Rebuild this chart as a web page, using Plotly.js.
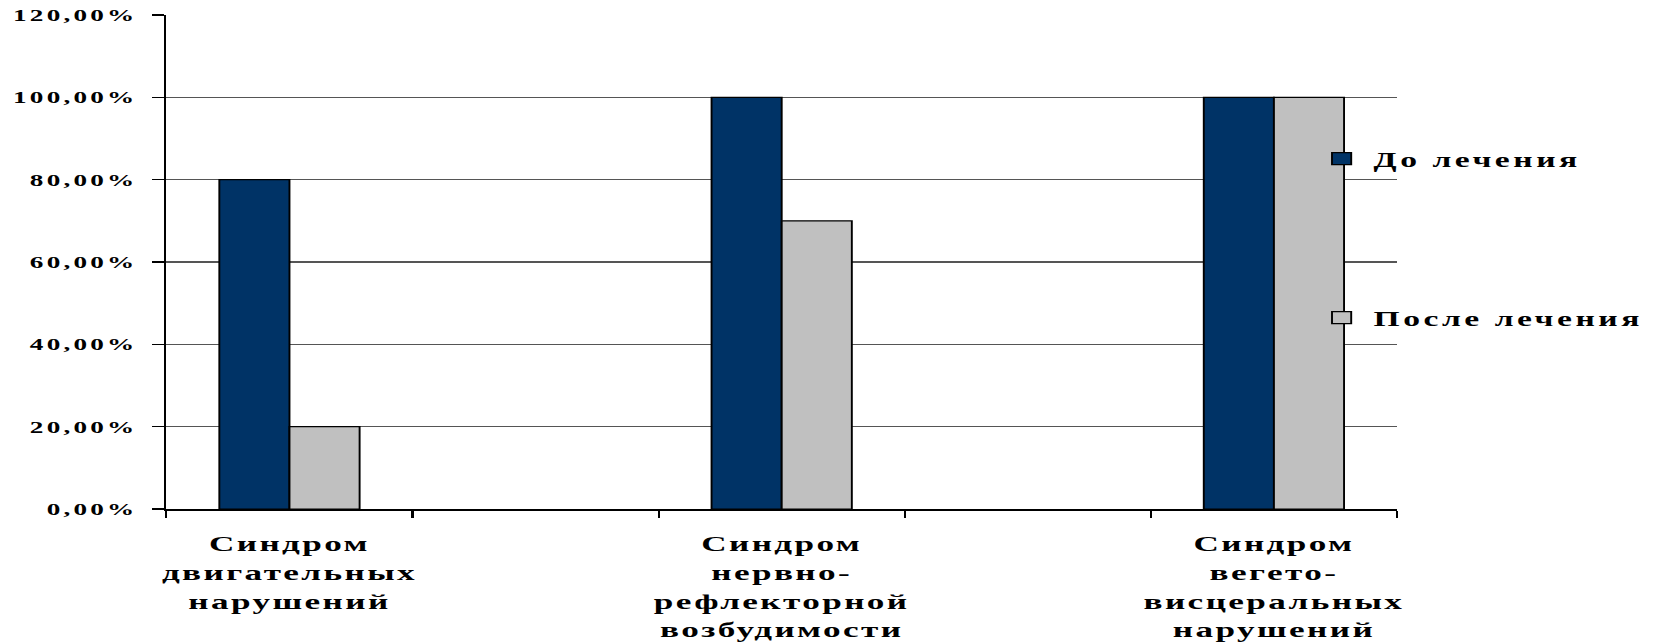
<!DOCTYPE html>
<html>
<head>
<meta charset="utf-8">
<script src="https://cdn.plot.ly/plotly-3.0.1.min.js"></script>
<style>
  html, body { margin: 0; padding: 0; background: #fff; overflow: hidden; }
  /* The original chart is horizontally stretched; draw it narrower and stretch it. */
  #chart { width: 1033px; height: 642px; transform: scaleX(1.600194); transform-origin: 0 0; }
  .ytick text { letter-spacing: 2px; }
  .xtick text { letter-spacing: 1.5px; }
  .infolayer g[class^="legend"] text { letter-spacing: 2.2px; }
  .infolayer g[class^="legend"] .scrollbox { clip-path: none !important; }
</style>
</head>
<body>
<div id="chart"></div>
<script>
// Categories (two empty slots as in the original chart)
var categories = [
  "Синдром<br>двигательных<br>нарушений",
  " ",
  "Синдром<br>нервно-<br>рефлекторной<br>возбудимости",
  "  ",
  "Синдром<br>вегето-<br>висцеральных<br>нарушений"
];
var beforeName = "До лечения";
var afterName = "После лечения";
var beforeValues = [0.80, null, 1.00, null, 1.00];
var afterValues  = [0.20, null, 0.70, null, 1.00];
var yTicks = [0, 0.2, 0.4, 0.6, 0.8, 1.0, 1.2];

var serif = "Liberation Serif, Times New Roman, serif";

var traces = [
  {
    type: "bar", name: beforeName, x: categories, y: beforeValues,
    marker: { color: "#003366", line: { color: "#000000", width: 1.2 } },
    legend: "legend", hoverinfo: "skip"
  },
  {
    type: "bar", name: afterName, x: categories, y: afterValues,
    marker: { color: "#C0C0C0", line: { color: "#000000", width: 1.2 } },
    legend: "legend2", hoverinfo: "skip"
  }
];

var layout = {
  width: 1033, height: 642,
  margin: { l: 104.4, r: 160, t: 15, b: 133, pad: 0 },
  paper_bgcolor: "#ffffff", plot_bgcolor: "#ffffff",
  separators: ", ",
  barmode: "group", bargap: 0.43, bargroupgap: 0,
  font: { family: serif, color: "#000000" },
  xaxis: {
    type: "category",
    tickson: "boundaries",
    ticks: "outside", ticklen: 7, tickwidth: 1.3, tickcolor: "#000000",
    showline: true, linecolor: "#000000", linewidth: 2,
    showgrid: false, zeroline: false,
    tickfont: { family: serif, size: 22, color: "#000000", weight: "bold" },
    ticklabelstandoff: 14,
    tickangle: 0,
    fixedrange: true
  },
  yaxis: {
    range: [0, 1.2],
    tickvals: yTicks,
    tickformat: ".2%",
    ticks: "outside", ticklen: 7, tickwidth: 1.5, tickcolor: "#000000",
    showline: true, linecolor: "#000000", linewidth: 1.7,
    showgrid: true, gridcolor: "#555555", gridwidth: 1.2,
    zeroline: false,
    tickfont: { family: serif, size: 17, color: "#000000", weight: "bold" },
    ticklabelstandoff: 6,
    fixedrange: true
  },
  legend: {
    x: 0.929, xanchor: "left", y: 0.7085, yanchor: "middle",
    bgcolor: "rgba(0,0,0,0)", borderwidth: 0,
    font: { family: serif, size: 21, color: "#000000", weight: "bold" }
  },
  legend2: {
    x: 0.929, xanchor: "left", y: 0.3866, yanchor: "middle",
    bgcolor: "rgba(0,0,0,0)", borderwidth: 0,
    font: { family: serif, size: 21, color: "#000000", weight: "bold" }
  },
  showlegend: true
};

Plotly.newPlot("chart", traces, layout, { staticPlot: true, displayModeBar: false });
</script>
</body>
</html>
